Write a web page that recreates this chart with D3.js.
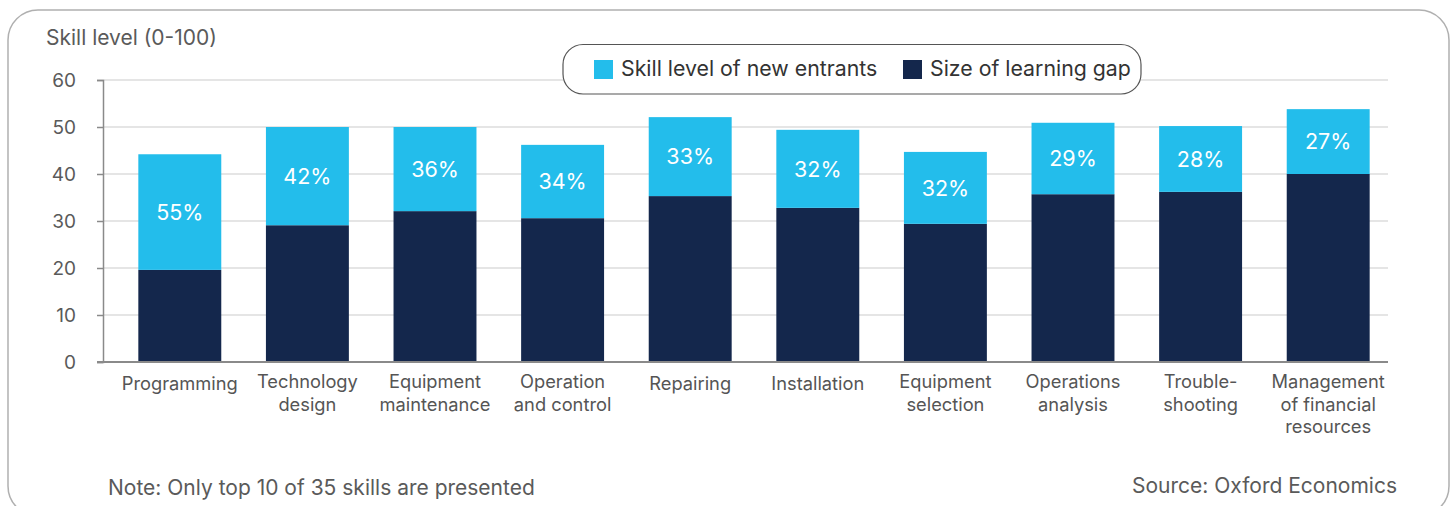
<!DOCTYPE html>
<html>
<head>
<meta charset="utf-8">
<script src="https://cdn.jsdelivr.net/npm/d3@7"></script>
<style>
  html, body { margin: 0; padding: 0; background: #fff; }
  svg { display: block; font-family: Inter, "Noto Sans", sans-serif; }
</style>
</head>
<body>
<svg id="chart" width="1452" height="506"></svg>
<script>
const categories = [
  "Programming",
  "Technology\ndesign",
  "Equipment\nmaintenance",
  "Operation\nand control",
  "Repairing",
  "Installation",
  "Equipment\nselection",
  "Operations\nanalysis",
  "Trouble-\nshooting",
  "Management\nof financial\nresources"
];
// dark segment (bottom)
const learningGap = [19.6, 29.1, 32.1, 30.6, 35.3, 32.8, 29.4, 35.7, 36.2, 40.0];
// light segment (stacked on top)
const newEntrants = [24.6, 20.9, 17.9, 15.6, 16.8, 16.6, 15.3, 15.2, 14.0, 13.8];
const pctLabels = ["55%", "42%", "36%", "34%", "33%", "32%", "32%", "29%", "28%", "27%"];
const yTicks = [0, 10, 20, 30, 40, 50, 60];
const seriesNames = ["Skill level of new entrants", "Size of learning gap"];
const colors = { light: "#23bdeb", dark: "#14274c" };

const svg = d3.select("#chart");

// outer frame
svg.append("rect")
  .attr("x", 8).attr("y", 10).attr("width", 1441).attr("height", 506)
  .attr("rx", 30).attr("ry", 30)
  .attr("fill", "none").attr("stroke", "#b0b0b0").attr("stroke-width", 1.5);

const x = d3.scaleBand().domain(categories).range([116, 1392])
  .paddingInner(0.35).paddingOuter(0.175);
const y = d3.scaleLinear().domain([0, 60]).range([362, 80]);
const axisX = 103;

// gridlines
svg.append("g").selectAll("line").data(yTicks.filter(d => d > 0)).join("line")
  .attr("x1", axisX).attr("x2", 1388)
  .attr("y1", d => y(d)).attr("y2", d => y(d))
  .attr("stroke", "#dcdcdc").attr("stroke-width", 1.5);

// y axis
const yAxis = d3.axisLeft(y).tickValues(yTicks).tickSize(6).tickPadding(21);
const gy = svg.append("g").attr("transform", `translate(${axisX},0)`).call(yAxis);
gy.select(".domain").attr("stroke", "#8a8a8a").attr("stroke-width", 1.5);
gy.selectAll(".tick line").attr("stroke", "#8a8a8a").attr("stroke-width", 1.5);
gy.selectAll(".tick text").attr("fill", "#5a5a5a")
  .style("font-size", "19px").style("font-family", "Inter, sans-serif");

// y axis title
svg.append("text").attr("x", 46).attr("y", 45)
  .attr("fill", "#5a5a5a").style("font-size", "21px")
  .text("Skill level (0-100)");

// bars
const gBars = svg.append("g");
categories.forEach((c, i) => {
  gBars.append("rect")
    .attr("x", x(c)).attr("width", x.bandwidth())
    .attr("y", y(learningGap[i])).attr("height", y(0) - y(learningGap[i]))
    .attr("fill", colors.dark);
  const top = learningGap[i] + newEntrants[i];
  gBars.append("rect")
    .attr("x", x(c)).attr("width", x.bandwidth())
    .attr("y", y(top)).attr("height", y(learningGap[i]) - y(top))
    .attr("fill", colors.light);
  gBars.append("text")
    .attr("x", x(c) + x.bandwidth() / 2)
    .attr("y", (y(top) + y(learningGap[i])) / 2)
    .attr("dy", "0.36em")
    .attr("text-anchor", "middle")
    .attr("fill", "#fff").style("font-size", "21.5px")
    .text(pctLabels[i]);
});

// x axis baseline
svg.append("line").attr("x1", 97).attr("x2", 1388)
  .attr("y1", y(0)).attr("y2", y(0))
  .attr("stroke", "#8a8a8a").attr("stroke-width", 2);

// category labels
const gx = svg.append("g");
categories.forEach(c => {
  const lines = c.split("\n");
  const t = gx.append("text")
    .attr("x", x(c) + x.bandwidth() / 2).attr("y", lines.length === 1 ? 390 : 388)
    .attr("text-anchor", "middle").attr("fill", "#555")
    .style("font-size", "18.3px");
  lines.forEach((line, j) => {
    t.append("tspan").attr("x", x(c) + x.bandwidth() / 2)
      .attr("dy", j === 0 ? 0 : 22.5).text(line);
  });
});

// legend
const lg = svg.append("g");
lg.append("rect").attr("x", 563).attr("y", 44.5).attr("width", 578).attr("height", 49.5)
  .attr("rx", 20).attr("ry", 20)
  .attr("fill", "#fff").attr("stroke", "#555").attr("stroke-width", 1.2);
const legendItems = [
  { name: seriesNames[0], color: colors.light, x: 594 },
  { name: seriesNames[1], color: colors.dark, x: 903 }
];
legendItems.forEach(d => {
  lg.append("rect").attr("x", d.x).attr("y", 60).attr("width", 19).attr("height", 19)
    .attr("fill", d.color);
  lg.append("text").attr("x", d.x + 27).attr("y", 76)
    .attr("fill", "#333").style("font-size", "21.3px").text(d.name);
});

// footnotes
svg.append("text").attr("x", 108).attr("y", 495)
  .attr("fill", "#5a5a5a").style("font-size", "21px")
  .text("Note: Only top 10 of 35 skills are presented");
svg.append("text").attr("x", 1397).attr("y", 493).attr("text-anchor", "end")
  .attr("fill", "#5a5a5a").style("font-size", "21px")
  .text("Source: Oxford Economics");
</script>
</body>
</html>
